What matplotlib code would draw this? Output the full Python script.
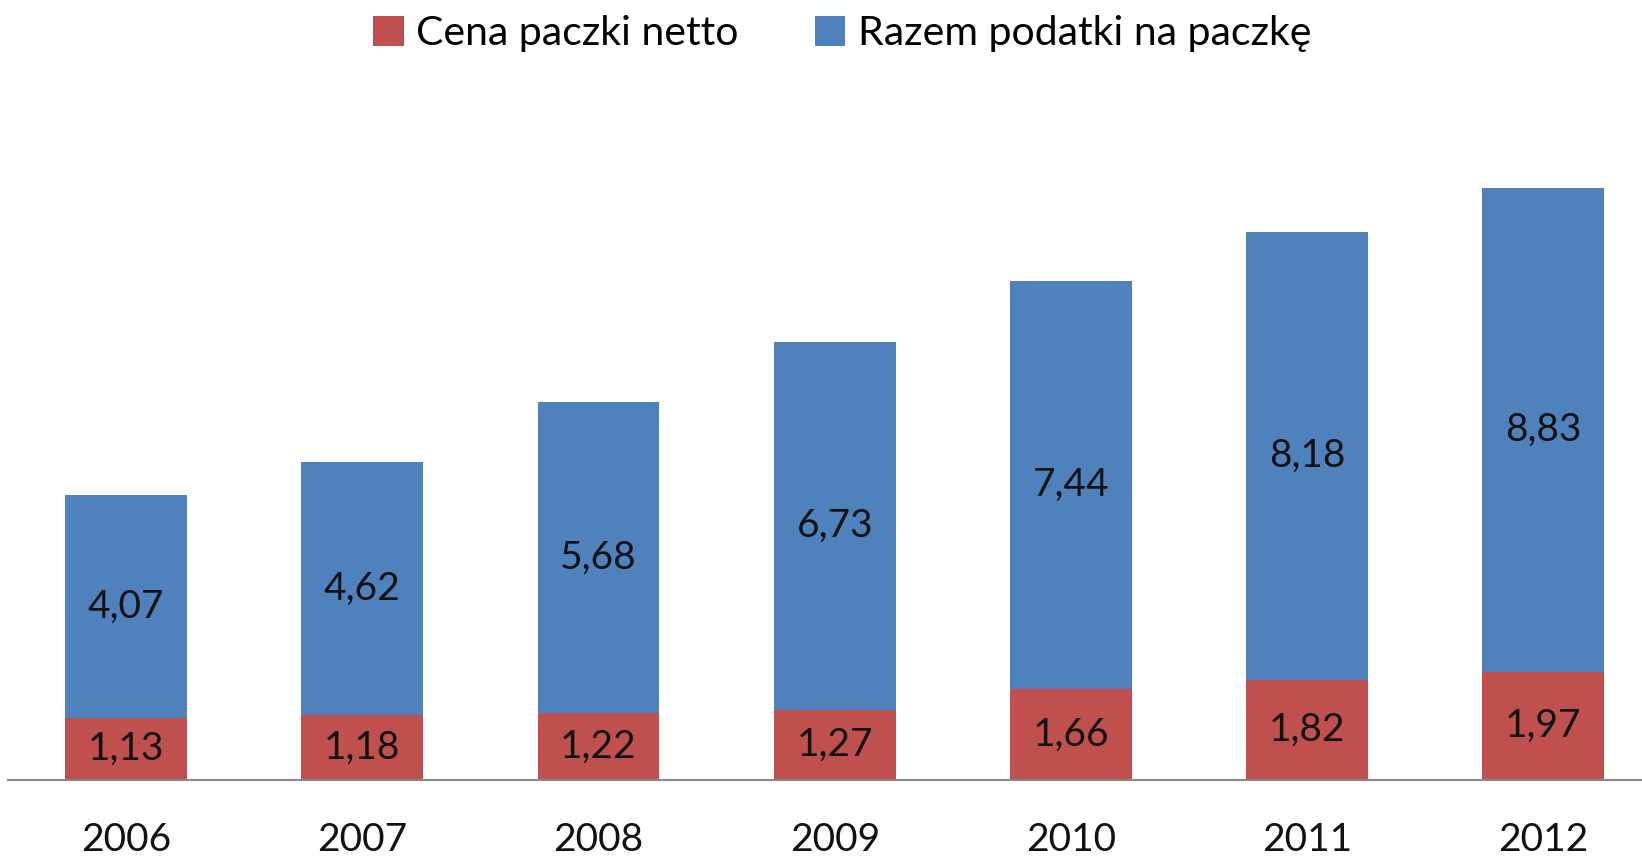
import numpy as np
import matplotlib.pyplot as plt

plt.rcParams['font.family'] = ['Lato', 'DejaVu Sans']

years = ["2006", "2007", "2008", "2009", "2010", "2011", "2012"]
cena_netto = [1.13, 1.18, 1.22, 1.27, 1.66, 1.82, 1.97]
podatki = [4.07, 4.62, 5.68, 6.73, 7.44, 8.18, 8.83]

red = "#C0504D"
blue = "#4F81BD"

fig = plt.figure(figsize=(16.42, 8.56), dpi=100)
ax = fig.add_axes([8 / 1642, 76 / 856, 1 - 8 / 1642, 700 / 856])

x = np.arange(len(years))
b1 = ax.bar(x, cena_netto, width=0.515, color=red, label="Cena paczki netto")
b2 = ax.bar(x, podatki, width=0.515, bottom=cena_netto, color=blue,
            label="Razem podatki na paczkę")

fmt = lambda v: f"{v:.2f}".replace(".", ",")
ax.bar_label(b1, labels=[fmt(v) for v in cena_netto], label_type="center",
             fontsize=28, color="#111111")
ax.bar_label(b2, labels=[fmt(v) for v in podatki], label_type="center",
             fontsize=28, color="#111111")

ax.set_xlim(-0.5, (1642 - 8) / 236.2 - 0.5)
ax.set_ylim(0, 700 / 54.8)
ax.set_xticks(x)
ax.set_xticklabels(years, fontsize=28, color="#111111")
ax.tick_params(axis="x", length=0, pad=30)
ax.set_yticks([])
for s in ["top", "right", "left"]:
    ax.spines[s].set_visible(False)
ax.spines["bottom"].set_color("#888888")
ax.spines["bottom"].set_linewidth(1.5)

fig.legend(loc="upper center", bbox_to_anchor=(0.513, 1.025), ncol=2,
           frameon=False, fontsize=29.5, handlelength=0.75, handleheight=0.75,
           handletextpad=0.3, columnspacing=1.85)

fig.savefig("out.png", dpi=100)
